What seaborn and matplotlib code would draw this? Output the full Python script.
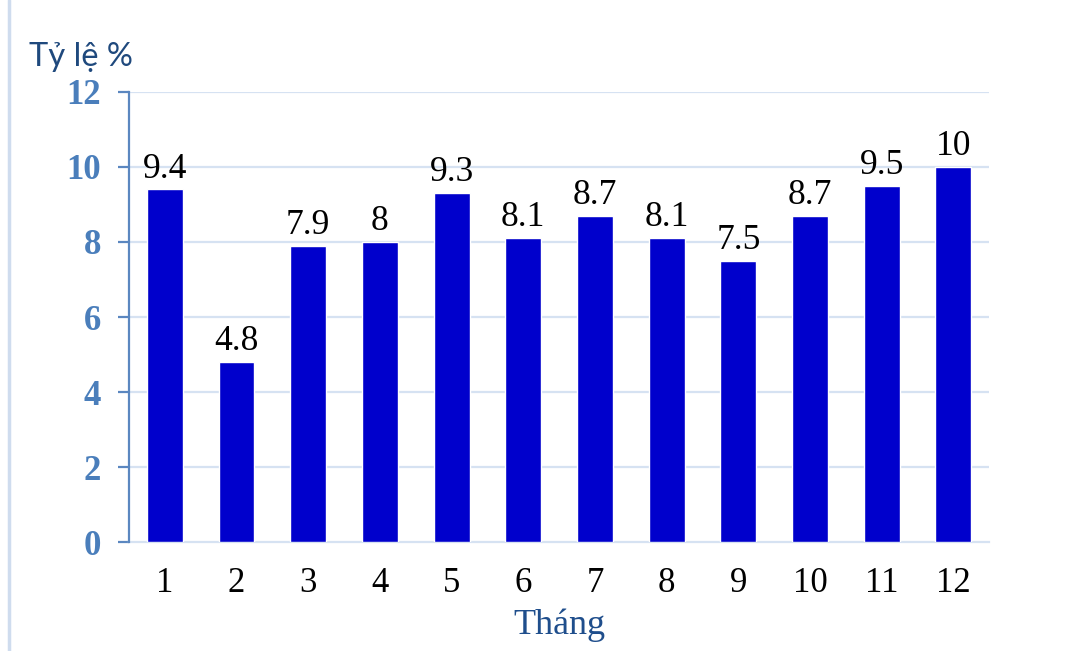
import matplotlib
matplotlib.use("Agg")
import matplotlib.pyplot as plt
import seaborn as sns
import pandas as pd
from matplotlib.lines import Line2D

# Monthly rate (%)
months = ["1", "2", "3", "4", "5", "6", "7", "8", "9", "10", "11", "12"]
rates = [9.4, 4.8, 7.9, 8, 9.3, 8.1, 8.7, 8.1, 7.5, 8.7, 9.5, 10]
y_ticks = [0, 2, 4, 6, 8, 10, 12]

df = pd.DataFrame({"Tháng": months, "Tỷ lệ": rates})

sns.set_theme(style="white")
plt.rcParams["font.family"] = ["Liberation Serif", "DejaVu Serif"]

fig = plt.figure(figsize=(10.69, 6.51), dpi=100)
ax = fig.add_axes([0.1207, 0.1674, 0.8047, 0.6913])

sns.barplot(data=df, x="Tháng", y="Tỷ lệ", color="#0000CC", saturation=1,
            width=0.5, ax=ax, zorder=3)

grid_c = "#d6e2f2"
axis_c = "#5b87c0"

ax.set_ylim(0, 12)
ax.set_xlim(-0.5, len(months) - 0.5)
ax.set_yticks(y_ticks)
ax.set_yticklabels([str(t) for t in y_ticks], fontsize=25, fontweight="bold",
                   color="#4a7ebb", family=["Liberation Serif"])
for t in y_ticks[1:]:
    ax.axhline(t, color=grid_c, lw=1.6, zorder=1)

ax.set_xticks(range(len(months)))
ax.set_xticklabels(months, fontsize=25, color="black")
ax.tick_params(axis="x", which="major", length=0, pad=18)
ax.set_xticks([i - 0.5 for i in range(len(months) + 1)], minor=True)
ax.tick_params(axis="x", which="minor", length=8, width=1.6, color=grid_c)
ax.tick_params(axis="y", which="major", length=8, width=1.6, color=axis_c, pad=12, left=True)

for side in ["top", "right"]:
    ax.spines[side].set_visible(False)
ax.spines["bottom"].set_color(grid_c)
ax.spines["bottom"].set_linewidth(1.6)
ax.spines["left"].set_color(axis_c)
ax.spines["left"].set_linewidth(1.6)
ax.spines["left"].set_zorder(4)

for i, v in enumerate(rates):
    ax.text(i, v + 0.1, f"{v:g}", ha="center", va="bottom", fontsize=25.5,
            color="black", zorder=5)

ax.set_xlabel("Tháng", fontsize=26, color="#1f4e8c", labelpad=6)
ax.set_ylabel("")
fig.text(0.027, 0.912, "Tỷ lệ %", fontsize=23.5, color="#1f497d",
         family=["Lato", "DejaVu Sans"], ha="left", va="center")

# frame line along the left edge of the figure
fig.add_artist(Line2D([0.008, 0.008], [0, 1], transform=fig.transFigure,
                      color="#cfdcee", lw=2.5))

fig.savefig("out.png", dpi=100, facecolor="white")
